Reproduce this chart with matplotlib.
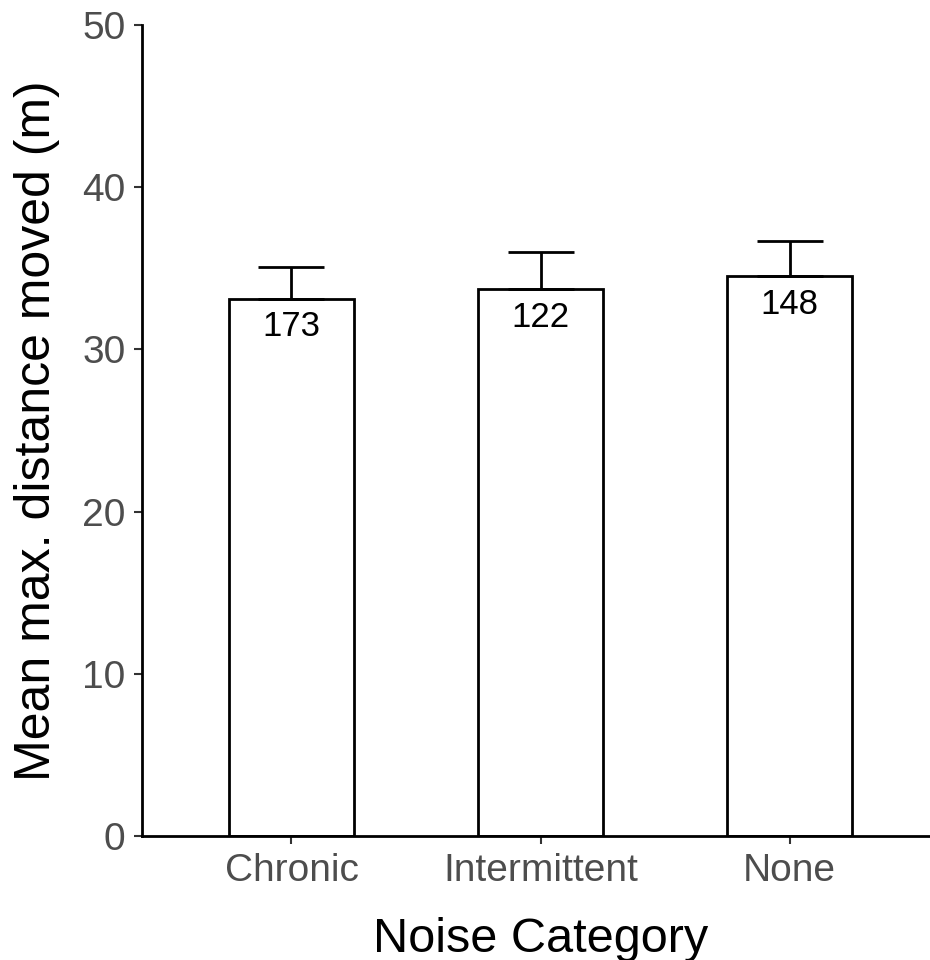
import matplotlib
matplotlib.use("Agg")
import matplotlib.pyplot as plt

# mean max. distance moved per noise category, with upper SE and sample sizes
categories = ["Chronic", "Intermittent", "None"]
mean_dist = [33.1, 33.7, 34.5]
se_dist = [2.0, 2.3, 2.2]
n_labels = ["173", "122", "148"]

plt.rcParams['font.family'] = ['Liberation Sans', 'DejaVu Sans']

fig = plt.figure(figsize=(9.3, 9.6), dpi=100)
ax = fig.add_axes([0.1527, 0.129, 0.857, 0.845])

x = list(range(len(categories)))
ax.bar(x, mean_dist, width=0.5, color='white', edgecolor='black', linewidth=2, zorder=2)
ax.errorbar(x, mean_dist, yerr=[[0] * len(se_dist), se_dist], fmt='none',
            ecolor='black', elinewidth=2, capsize=24, capthick=2, zorder=3)

for xi, m, n in zip(x, mean_dist, n_labels):
    ax.annotate(n, xy=(xi, m), xytext=(0, -8), textcoords='offset points',
                ha='center', va='top', fontsize=25, color='black')

ax.set_xlim(-0.6, 2.6)
ax.set_ylim(0, 50)
ax.set_yticks([0, 10, 20, 30, 40, 50])
ax.set_xticks(x)
ax.set_xticklabels(categories)

for side in ['top', 'right']:
    ax.spines[side].set_visible(False)
for side in ['left', 'bottom']:
    ax.spines[side].set_linewidth(2)
    ax.spines[side].set_color('black')

ax.tick_params(axis='both', length=6, width=1.5, color='#333333',
               labelsize=28, labelcolor='#4D4D4D', pad=6)

ax.set_xlabel("Noise Category", fontsize=35, labelpad=20)
ax.set_ylabel("Mean max. distance moved (m)", fontsize=36, labelpad=16)

fig.savefig("out.png", dpi=100)
